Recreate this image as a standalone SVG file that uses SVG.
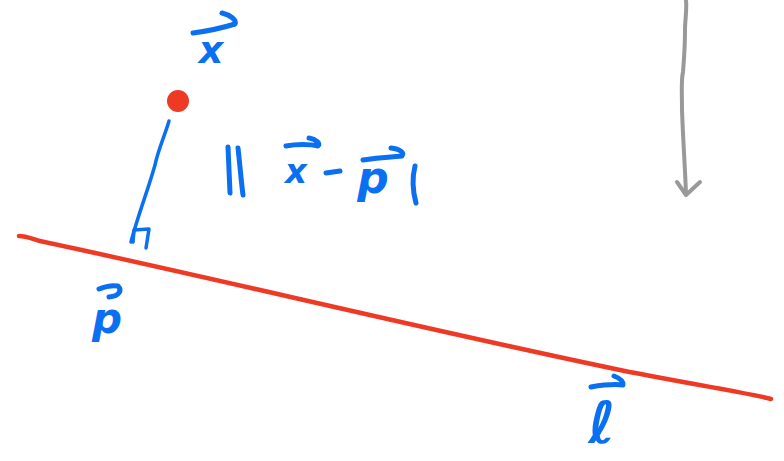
<svg xmlns="http://www.w3.org/2000/svg" width="784" height="461" viewBox="0 0 784 461">
<style>
.ink{fill:none;stroke:#0b6ff2;stroke-width:5;stroke-linecap:round;stroke-linejoin:round}
.thin{fill:none;stroke:#0b6ff2;stroke-width:3.5;stroke-linecap:round;stroke-linejoin:round}
.lbl{fill:#0b6ff2;font-family:"DejaVu Sans","Liberation Sans",sans-serif;font-weight:bold;font-style:italic}
.red{fill:none;stroke:#ee3a24;stroke-width:4.5;stroke-linecap:round}
.gray{fill:none;stroke:#999999;stroke-width:4;stroke-linecap:round;stroke-linejoin:round}
</style>
<rect width="784" height="461" fill="#ffffff"/>
<g id="line-l">
<path class="red" d="M19,236 C25,236 30,238 40,241 C200,275 450,335 620,370 C700,386 745,392 771,399"/>
</g>
<g id="point-x">
<circle cx="178" cy="101" r="11" fill="#ee3a24"/>
</g>
<g id="connectors">
<path class="thin" d="M169,121 C165,135 158,150 155,165 C148,190 138,215 131,242"/>
<path class="thin" d="M133,242 L134,230 L149,229 L146,248"/>
<path class="gray" d="M686,0 C687,10 685,20 685,30 C685,45 684,60 683,72 C681,80 682,90 682,110 C683,140 685,165 686,194"/>
<path class="gray" d="M677,182 L686,195 L700,182"/>
</g>
<g id="label-x">
<text class="lbl" x="211" y="63" font-size="38" text-anchor="middle">x</text>
<path class="ink" d="M193,33 C208,31 222,28 235,24 C237,20 230,15 222,13"/>
</g>
<g id="label-norm">
<path class="ink" d="M228,147 L230,193 M238,148 C240,165 241,180 243,195"/>
<text class="lbl" x="296" y="183" font-size="34" text-anchor="middle">x</text>
<path class="ink" d="M286,146 C296,144 310,144 318,146 C321,144 316,139 309,138"/>
<path class="ink" d="M326,173 L340,171"/>
<text class="lbl" x="373" y="193" font-size="44" text-anchor="middle">p</text>
<path class="ink" d="M363,160 C375,158 390,157 402,156 C405,153 400,149 391,148"/>
<path class="ink" d="M415,166 C412,178 413,192 416,203"/>
</g>
<g id="label-p">
<text class="lbl" x="107" y="333" font-size="42" text-anchor="middle">p</text>
<path class="ink" d="M99,289 C106,286 112,285 118,286 C122,290 120,296 109,297"/>
</g>
<g id="label-l">
<text class="lbl" x="602" y="443" font-size="58" text-anchor="middle">ℓ</text>
<path class="ink" d="M591,387 C603,385 614,384 623,385 C624,381 619,378 614,376"/>
</g>
</svg>
